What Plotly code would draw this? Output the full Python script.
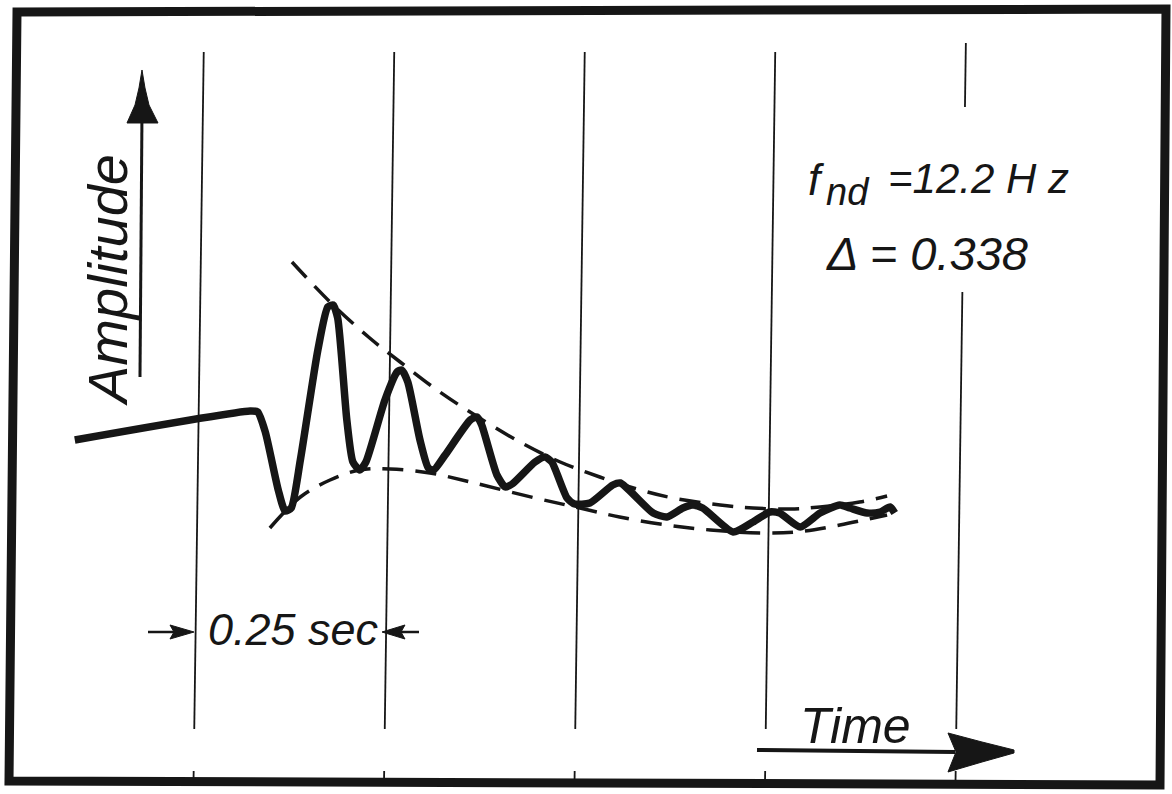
import plotly.graph_objects as go

W, H = 1172, 794
INK = "#161616"

# ---------------- data (time in s, amplitude in arbitrary units) ----------------
wave_t = [-0.163, 0.067, 0.077, 0.087, 0.104, 0.113, 0.121, 0.133, 0.156, 0.169,
          0.176, 0.182, 0.194, 0.202, 0.211, 0.219, 0.244, 0.260, 0.266, 0.274,
          0.290, 0.301, 0.308, 0.323, 0.356, 0.365, 0.371, 0.391, 0.402, 0.411,
          0.441, 0.454, 0.463, 0.483, 0.493, 0.513, 0.543, 0.553, 0.596, 0.614,
          0.635, 0.648, 0.661, 0.701, 0.727, 0.749, 0.762, 0.789, 0.815, 0.841,
          0.854, 0.877, 0.894, 0.907, 0.913]
wave_a = [0.40, 0.69, 0.68, 0.48, -0.10, -0.31, -0.28, 0.20, 1.30, 1.73,
          1.75, 1.62, 0.60, 0.18, 0.10, 0.18, 0.80, 1.08, 1.10, 0.98,
          0.40, 0.12, 0.10, 0.25, 0.60, 0.63, 0.55, 0.05, -0.07, -0.04,
          0.18, 0.23, 0.18, -0.18, -0.24, -0.23, -0.05, -0.03, -0.33, -0.37,
          -0.28, -0.25, -0.28, -0.52, -0.42, -0.32, -0.33, -0.47, -0.33, -0.25,
          -0.28, -0.33, -0.32, -0.27, -0.33]

upper_t = [0.122, 0.172, 0.224, 0.264, 0.316, 0.362, 0.421, 0.474, 0.526, 0.579,
           0.622, 0.684, 0.727, 0.776, 0.815, 0.867, 0.903]
upper_a = [2.18, 1.78, 1.42, 1.18, 0.88, 0.65, 0.38, 0.18, 0.03, -0.10,
           -0.18, -0.25, -0.28, -0.29, -0.27, -0.22, -0.16]

lower_t = [0.093, 0.133, 0.172, 0.211, 0.251, 0.303, 0.356, 0.441, 0.500, 0.552,
           0.614, 0.671, 0.736, 0.785, 0.841, 0.903]
lower_a = [-0.48, -0.17, 0.00, 0.10, 0.11, 0.07, -0.02, -0.18, -0.28, -0.37,
           -0.45, -0.50, -0.53, -0.52, -0.45, -0.35]

grid_times = [0.0, 0.25, 0.5, 0.75, 1.0]

# ---------------- axes scale (px = X0 + t*SX ; py = Y0 - a*SY) ----------------
X0, SX = 199.0, 762.0
Y0, SY = 480.0, 100.0
x_range = [(0 - X0) / SX, (W - X0) / SX]
y_range = [(Y0 - H) / SY, Y0 / SY]


def py2a(py):
    return (Y0 - py) / SY


SLANT = 0.014  # scan skew, px of x per px of y


def skew(t, a):
    return t + SLANT * SY * (a - py2a(390)) / SX


fig = go.Figure()

# grid lines (vertical time divisions), slightly skewed like the scan
for i, t in enumerate(grid_times):
    if i == 4:
        segs = [(43, 107), (292, 729)]
    else:
        segs = [(52, 729)]
    segs = segs + [(771, 782)]
    for (p0, p1) in segs:
        a0, a1 = py2a(p0), py2a(p1)
        fig.add_trace(go.Scatter(x=[skew(t, a0), skew(t, a1)], y=[a0, a1], mode="lines",
                                 line=dict(color=INK, width=1.8), hoverinfo="skip",
                                 showlegend=False))

# envelopes
for tt, aa in ((upper_t, upper_a), (lower_t, lower_a)):
    fig.add_trace(go.Scatter(x=tt, y=aa, mode="lines",
                             line=dict(color=INK, width=3.5, dash="21px,12px", shape="spline",
                                       smoothing=1.0),
                             hoverinfo="skip", showlegend=False))

# signal
fig.add_trace(go.Scatter(x=wave_t, y=wave_a, mode="lines",
                         line=dict(color=INK, width=7.5, shape="spline", smoothing=0.6),
                         hoverinfo="skip", showlegend=False))


# ---------------- decorations in pixel space (paper coords) ----------------
def P(px, py):
    return f"{px / W:.5f},{1 - py / H:.5f}"


def path(points, close=True):
    s = "M " + " L ".join(P(x, y) for x, y in points)
    return s + (" Z" if close else "")


def stroke(points, width, close=False):
    return dict(type="path", xref="paper", yref="paper", path=path(points, close),
                line=dict(color=INK, width=width))


def fill(points):
    return dict(type="path", xref="paper", yref="paper", path=path(points, True),
                line=dict(color=INK, width=1), fillcolor=INK)


shapes = [
    # frame
    stroke([(17, 12), (1166, 9), (1160, 785), (9, 781)], 9, close=True),
    # amplitude arrow
    stroke([(140, 377), (142, 112)], 3),
    fill([(142, 70), (145, 88), (149, 105), (158, 123), (127, 123), (135, 105), (139, 88)]),
    # 0.25 sec arrows
    stroke([(148, 632), (180, 632)], 2.5),
    fill([(194, 632), (170, 625), (174, 632), (170, 639)]),
    stroke([(395, 632), (419, 632)], 2.5),
    fill([(382, 632), (405, 625), (401, 632), (405, 639)]),
    # time arrow
    stroke([(757, 750), (955, 752)], 4),
    fill([(948, 733), (982, 742), (1014, 750), (1014, 753), (982, 762), (948, 772),
          (956, 752)]),
]

FONT = "Liberation Sans, Arial, sans-serif"


def label(text, px, py, size, xanchor="left", angle=0):
    return dict(text=text, xref="paper", yref="paper", x=px / W, y=1 - py / H,
                xanchor=xanchor, yanchor="middle", showarrow=False, textangle=angle,
                font=dict(family=FONT, size=size, color=INK, style="italic"))


annotations = [
    label("Amplitude", 108, 280, 56, xanchor="center", angle=-90),
    label("f", 806, 195 - 0.35 * 44, 44),
    label("nd", 824, 205 - 0.35 * 38, 38),
    label("=12.2 H z", 886, 193 - 0.35 * 42, 42),
    label("Δ = 0.338", 824, 270 - 0.35 * 47, 47),
    label("0.25 sec", 206, 645 - 0.35 * 45, 45),
    label("Time", 798, 743 - 0.35 * 50, 50),
]

fig.update_layout(
    width=W, height=H, margin=dict(l=0, r=0, t=0, b=0),
    paper_bgcolor="white", plot_bgcolor="white",
    xaxis=dict(range=x_range, visible=False, fixedrange=True),
    yaxis=dict(range=y_range, visible=False, fixedrange=True),
    shapes=shapes, annotations=annotations, showlegend=False,
)

fig.write_html("out.html")
